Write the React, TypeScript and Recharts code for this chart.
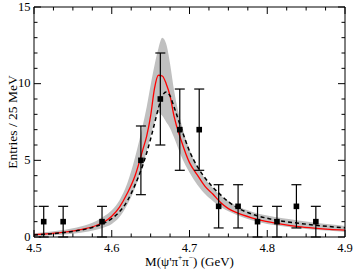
import {
  Area,
  ComposedChart,
  ErrorBar,
  Line,
  Scatter,
  XAxis,
  YAxis,
} from "recharts";

// fit curves
const CURVE_X = [
  4.5, 4.52, 4.54, 4.56, 4.58, 4.59, 4.6, 4.61, 4.62, 4.63, 4.64, 4.645, 4.65, 4.655, 4.66, 4.665, 4.67,
  4.675, 4.68, 4.69, 4.7, 4.71, 4.72, 4.73, 4.74, 4.75, 4.76, 4.78, 4.8, 4.82, 4.84, 4.86, 4.88, 4.9,
];
const FIT_RED = [
  0.15, 0.22, 0.32, 0.48, 0.75, 0.98, 1.35, 1.95, 2.85, 4.0, 5.7, 6.6, 7.9, 9.7, 10.55, 10.5, 10.0,
  9.2, 7.9, 6.2, 4.85, 4.05, 3.3, 2.8, 2.25, 1.85, 1.6, 1.25, 1.0, 0.82, 0.68, 0.58, 0.5, 0.45,
];
const FIT_DASHED = [
  0.13, 0.2, 0.3, 0.45, 0.7, 0.9, 1.2, 1.65, 2.35, 3.4, 4.7, 5.5, 6.4, 7.4, 8.4, 9.2, 9.45,
  9.2, 8.5, 7.0, 5.6, 4.6, 3.85, 3.25, 2.75, 2.3, 1.95, 1.5, 1.22, 1.03, 0.9, 0.78, 0.68, 0.6,
];
const BAND_HIGH = [
  0.25, 0.35, 0.48, 0.68, 1.05, 1.35, 1.75, 2.4, 3.5, 5.2, 7.3, 8.5, 9.9, 11.2, 12.3, 13.0, 12.6,
  11.3, 9.6, 7.3, 5.7, 4.6, 3.8, 3.2, 2.7, 2.35, 2.05, 1.65, 1.4, 1.22, 1.08, 0.95, 0.83, 0.72,
];
const BAND_LOW = [
  0.05, 0.1, 0.17, 0.28, 0.47, 0.62, 0.85, 1.3, 2.1, 3.2, 4.7, 5.6, 6.6, 7.5, 8.1, 7.9, 7.5,
  7.1, 6.5, 5.2, 4.2, 3.4, 2.8, 2.35, 1.95, 1.68, 1.45, 1.1, 0.85, 0.7, 0.57, 0.47, 0.4, 0.33,
];

// data points (bin centres, entries, errors)
const BIN_X = [4.5125, 4.5375, 4.5875, 4.6375, 4.6625, 4.6875, 4.7125, 4.7375, 4.7625, 4.7875, 4.8125, 4.8375, 4.8625];
const ENTRIES = [1, 1, 1, 5, 9, 7, 7, 2, 2, 1, 1, 2, 1];
const ERRORS = [1, 1, 1, 2.24, 3, 2.65, 2.65, 1.41, 1.41, 1, 1, 1.41, 1];

const X_TICKS = [
  4.5, 4.525, 4.55, 4.575, 4.6, 4.625, 4.65, 4.675, 4.7, 4.725, 4.75, 4.775, 4.8, 4.825, 4.85, 4.875, 4.9,
];
const X_LABELS = [4.5, 4.6, 4.7, 4.8, 4.9];
const Y_TICKS = [0, 1, 2, 3, 4, 5, 6, 7, 8, 9, 10, 11, 12, 13, 14, 15];
const Y_LABELS = [0, 5, 10, 15];

const curves = CURVE_X.map((x, i) => ({
  x,
  red: FIT_RED[i],
  dashed: FIT_DASHED[i],
  band: [BAND_LOW[i], BAND_HIGH[i]],
}));
const points = BIN_X.map((x, i) => ({ x, y: ENTRIES[i], err: ERRORS[i] }));

const FONT = "'Liberation Serif', 'DejaVu Serif', serif";
const isMajor = (list: number[], v: number) => list.some((m) => Math.abs(m - v) < 1e-6);

function XTick(props: any) {
  const { x, y, payload, side } = props;
  const major = isMajor(X_LABELS, payload.value);
  const len = major ? 7 : 3.5;
  const dir = side === "top" ? 1 : -1;
  return (
    <g>
      <line x1={x} y1={y} x2={x} y2={y + dir * len} stroke="#000" strokeWidth={1} />
      {side === "bottom" && major ? (
        <text x={x} y={y + 14.5} textAnchor="middle" fontSize={12.5} fontFamily={FONT} fill="#000">
          {payload.value.toFixed(1)}
        </text>
      ) : null}
    </g>
  );
}

function YTick(props: any) {
  const { x, y, payload, side } = props;
  const major = isMajor(Y_LABELS, payload.value);
  const len = major ? 7 : 3.5;
  const dir = side === "left" ? 1 : -1;
  return (
    <g>
      <line x1={x} y1={y} x2={x + dir * len} y2={y} stroke="#000" strokeWidth={1} />
      {side === "left" && major ? (
        <text x={x - 3.5} y={y + 3.5} textAnchor="end" fontSize={12.5} fontFamily={FONT} fill="#000">
          {payload.value}
        </text>
      ) : null}
    </g>
  );
}

function Square(props: any) {
  const { cx, cy } = props;
  if (cx == null || cy == null) return null;
  return <rect x={cx - 2.8} y={cy - 2.8} width={5.6} height={5.6} fill="#000" />;
}

function XTitle(props: any) {
  const { viewBox } = props;
  const cx = viewBox.x + viewBox.width / 2;
  return (
    <text x={cx} y={266} textAnchor="middle" fontSize={13} fontFamily={FONT} fill="#000">
      <tspan>M(ψ'π</tspan>
      <tspan fontSize={7.5} dy={-6}>+</tspan>
      <tspan dy={6}>π</tspan>
      <tspan fontSize={7.5} dy={-6}>−</tspan>
      <tspan dy={6}>) (GeV)</tspan>
    </text>
  );
}

export default function App() {
  return (
    <div style={{ position: "absolute", left: 0, top: 0, background: "#fff" }}>
      <ComposedChart width={354} height={270} data={curves} margin={{ top: 6, right: 8, bottom: 0, left: 0 }}>
        <XAxis
          xAxisId="b"
          dataKey="x"
          type="number"
          domain={[4.5, 4.9]}
          ticks={X_TICKS}
          interval={0}
          allowDataOverflow
          height={33}
          tickSize={0}
          tickMargin={0}
          axisLine={{ stroke: "#000" }}
          tick={<XTick side="bottom" />}
          label={{ content: <XTitle /> }}
        />
        <XAxis
          xAxisId="t"
          orientation="top"
          dataKey="x"
          type="number"
          domain={[4.5, 4.9]}
          ticks={X_TICKS}
          interval={0}
          allowDataOverflow
          height={1}
          tickSize={0}
          tickMargin={0}
          axisLine={{ stroke: "#000" }}
          tick={<XTick side="top" />}
        />
        <YAxis
          yAxisId="l"
          type="number"
          domain={[0, 15]}
          ticks={Y_TICKS}
          interval={0}
          allowDataOverflow
          width={34}
          tickSize={0}
          tickMargin={0}
          axisLine={{ stroke: "#000" }}
          tick={<YTick side="left" />}
          label={{
            value: "Entries / 25 MeV",
            angle: -90,
            position: "center",
            dx: -5,
            style: { fontSize: 13.5, fontFamily: FONT, fill: "#000" },
          }}
        />
        <YAxis
          yAxisId="r"
          orientation="right"
          type="number"
          domain={[0, 15]}
          ticks={Y_TICKS}
          interval={0}
          allowDataOverflow
          width={1}
          tickSize={0}
          tickMargin={0}
          axisLine={{ stroke: "#000" }}
          tick={<YTick side="right" />}
        />
        <Area
          xAxisId="b"
          yAxisId="l"
          type="monotone"
          dataKey="band"
          stroke="none"
          fill="#c0c0c0"
          fillOpacity={1}
          isAnimationActive={false}
        />
        <Line
          xAxisId="b"
          yAxisId="l"
          type="monotone"
          dataKey="red"
          stroke="#ff0000"
          strokeWidth={1.3}
          dot={false}
          isAnimationActive={false}
        />
        <Line
          xAxisId="b"
          yAxisId="l"
          type="monotone"
          dataKey="dashed"
          stroke="#000"
          strokeWidth={1.5}
          strokeDasharray="4 3"
          dot={false}
          isAnimationActive={false}
        />
        <Scatter
          xAxisId="b"
          yAxisId="l"
          data={points}
          dataKey="y"
          shape={<Square />}
          isAnimationActive={false}
        >
          <ErrorBar dataKey="err" direction="y" width={5} stroke="#000" strokeWidth={1.2} isAnimationActive={false} />
        </Scatter>
      </ComposedChart>
    </div>
  );
}
